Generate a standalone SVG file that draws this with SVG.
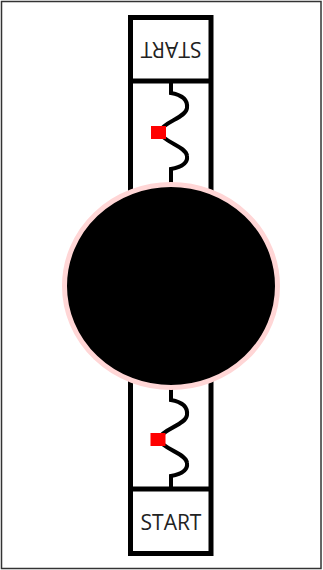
<svg xmlns="http://www.w3.org/2000/svg" width="323" height="570" viewBox="0 0 323 570">
<style>
.frame{fill:none;stroke:#000;stroke-width:5}
.wave{fill:none;stroke:#000;stroke-width:4}
.mark{fill:#ff0000}
.lbl{font-family:"Open Sans","Noto Sans",sans-serif;font-size:21px;fill:#222;text-anchor:middle}
</style>
<rect x="1.5" y="1.5" width="319.5" height="567" fill="#fff" stroke="#333" stroke-width="1.5"/>
<g id="track">
<rect class="frame" x="130.5" y="17.5" width="80.5" height="536"/>
<line class="frame" x1="130.5" y1="81" x2="211" y2="81"/>
<line class="frame" x1="130.5" y1="489" x2="211" y2="489"/>
</g>
<g id="start-top">
<text class="lbl" x="171" y="56.5" transform="rotate(180 171 49)">START</text>
</g>
<g id="start-bottom">
<text class="lbl" x="171" y="530">START</text>
</g>
<g id="connectors">
<path class="wave" d="M171,81 V93 C182,95 188,100 187,108 C186,118 164,121 159,132 C164,143 186,146 187,156 C188,163 182,167 171,169 V186"/>
<path class="wave" d="M171,385 V400 C182,402 188,407 187,415 C186,425 164,428 158,439 C164,450 186,453 187,463 C188,470 182,474 171,476 V489"/>
</g>
<g id="mark-top"><rect class="mark" x="151" y="126" width="15" height="13"/></g>
<g id="mark-bottom"><rect class="mark" x="150.5" y="433" width="15" height="13"/></g>
<g id="ball">
<ellipse cx="171" cy="286" rx="106.5" ry="101.5" fill="#000" stroke="#ffd6d6" stroke-width="5"/>
</g>
</svg>
